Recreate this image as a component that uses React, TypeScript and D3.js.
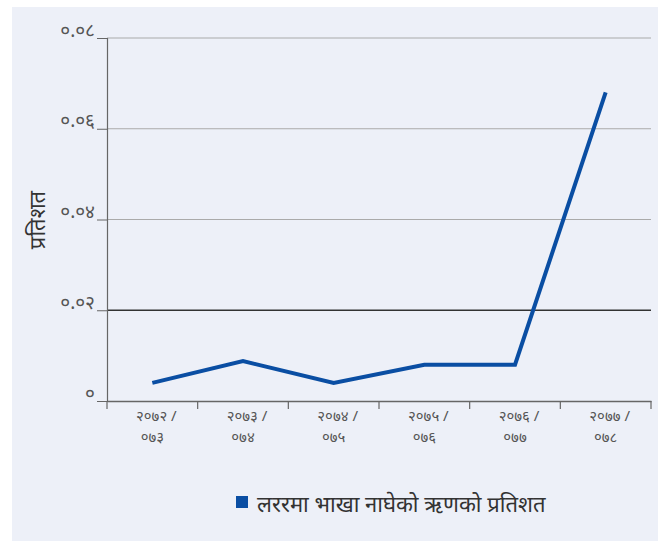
import React, { useEffect, useRef } from "react"
import * as d3 from "d3"

const years: string[][] = [
  ["२०७२ /", "०७३"],
  ["२०७३ /", "०७४"],
  ["२०७४ /", "०७५"],
  ["२०७५ /", "०७६"],
  ["२०७६ /", "०७७"],
  ["२०७७ /", "०७८"],
]
const values: number[] = [0.004, 0.0088, 0.004, 0.008, 0.008, 0.068]
const yTicks: number[] = [0, 0.02, 0.04, 0.06, 0.08]
const yTickLabels: string[] = ["०", "०.०२", "०.०४", "०.०६", "०.०८"]
const yTitle = "प्रतिशत"
const seriesName = "लररमा भाखा नाघेको ऋणको प्रतिशत"

const devFont = "'Noto Sans', 'DejaVu Sans', sans-serif"

export default function App() {
  const svgRef = useRef<SVGSVGElement>(null)

  useEffect(() => {
    if (!svgRef.current) return
    const root = d3.select(svgRef.current)
    root.selectAll("*").remove()

    // panel background
    root.append("rect")
      .attr("x", 12).attr("y", 7)
      .attr("width", 646).attr("height", 534)
      .attr("fill", "#edf0f8")

    const margin = { left: 107, top: 38, right: 651, bottom: 401 }

    const x = d3.scaleBand<number>()
      .domain(years.map((_, i) => i))
      .range([margin.left, margin.right])

    const y = d3.scaleLinear()
      .domain([0, 0.08])
      .range([margin.bottom, margin.top])

    // grid lines
    root.append("g")
      .selectAll("line")
      .data(yTicks.filter(t => t > 0))
      .enter()
      .append("line")
      .attr("x1", margin.left)
      .attr("x2", margin.right)
      .attr("y1", d => y(d))
      .attr("y2", d => y(d))
      .attr("stroke", d => (d === 0.02 ? "#333" : "#aaa"))
      .attr("stroke-width", d => (d === 0.02 ? 1.5 : 1.2))

    // y axis
    const yAxis = root.append("g")
      .attr("transform", `translate(${margin.left},0)`)
      .call(
        d3.axisLeft(y)
          .tickValues(yTicks)
          .tickSize(10)
          .tickPadding(2)
          .tickFormat((_, i) => yTickLabels[i])
      )
    yAxis.select(".domain").attr("stroke", "#666").attr("stroke-width", 1.2)
    yAxis.selectAll(".tick line").attr("stroke", "#666")
    yAxis.selectAll("text")
      .attr("fill", "#555")
      .attr("font-size", "19px")
      .attr("font-family", devFont)
      .attr("dy", "-0.1em")

    // x axis
    const xAxis = root.append("g")
      .attr("transform", `translate(0,${margin.bottom})`)
      .call(d3.axisBottom(x).tickSize(0).tickFormat(() => ""))
    xAxis.select(".domain").attr("stroke", "#666").attr("stroke-width", 1.5)

    // band boundary ticks
    root.append("g")
      .selectAll("line")
      .data(d3.range(years.length + 1))
      .enter()
      .append("line")
      .attr("x1", i => (i < years.length ? x(i)! : margin.right))
      .attr("x2", i => (i < years.length ? x(i)! : margin.right))
      .attr("y1", margin.bottom)
      .attr("y2", margin.bottom + 8)
      .attr("stroke", "#666")
      .attr("stroke-width", 1.2)

    // x labels
    const labels = root.append("g")
      .selectAll("text")
      .data(years)
      .enter()
      .append("text")
      .attr("x", (_, i) => x(i)! + x.bandwidth() / 2)
      .attr("y", margin.bottom + 20)
      .attr("text-anchor", "middle")
      .attr("fill", "#555")
      .attr("font-size", "15px")
      .attr("font-family", devFont)
    labels.append("tspan")
      .attr("x", (_, i) => x(i)! + x.bandwidth() / 2 + 4)
      .text(d => d[0])
    labels.append("tspan")
      .attr("x", (_, i) => x(i)! + x.bandwidth() / 2)
      .attr("dy", 21)
      .text(d => d[1])

    // line
    const line = d3.line<number>()
      .x((_, i) => x(i)! + x.bandwidth() / 2)
      .y(d => y(d))

    root.append("path")
      .datum(values)
      .attr("d", line)
      .attr("fill", "none")
      .attr("stroke", "#0a4ea3")
      .attr("stroke-width", 4)
      .attr("stroke-linejoin", "miter")

    // y title
    root.append("text")
      .attr("transform", "translate(45,220) rotate(-90)")
      .attr("text-anchor", "middle")
      .attr("fill", "#333")
      .attr("font-size", "22px")
      .attr("font-family", devFont)
      .text(yTitle)

    // legend
    root.append("rect")
      .attr("x", 236).attr("y", 496)
      .attr("width", 12).attr("height", 12)
      .attr("fill", "#0a4ea3")
    root.append("text")
      .attr("x", 257)
      .attr("y", 512)
      .attr("fill", "#333")
      .attr("font-size", "22px")
      .attr("font-family", devFont)
      .text(seriesName)
  }, [])

  return (
    <svg
      ref={svgRef}
      width={658}
      height={541}
      style={{ position: "absolute", left: 0, top: 0, display: "block" }}
    />
  )
}
